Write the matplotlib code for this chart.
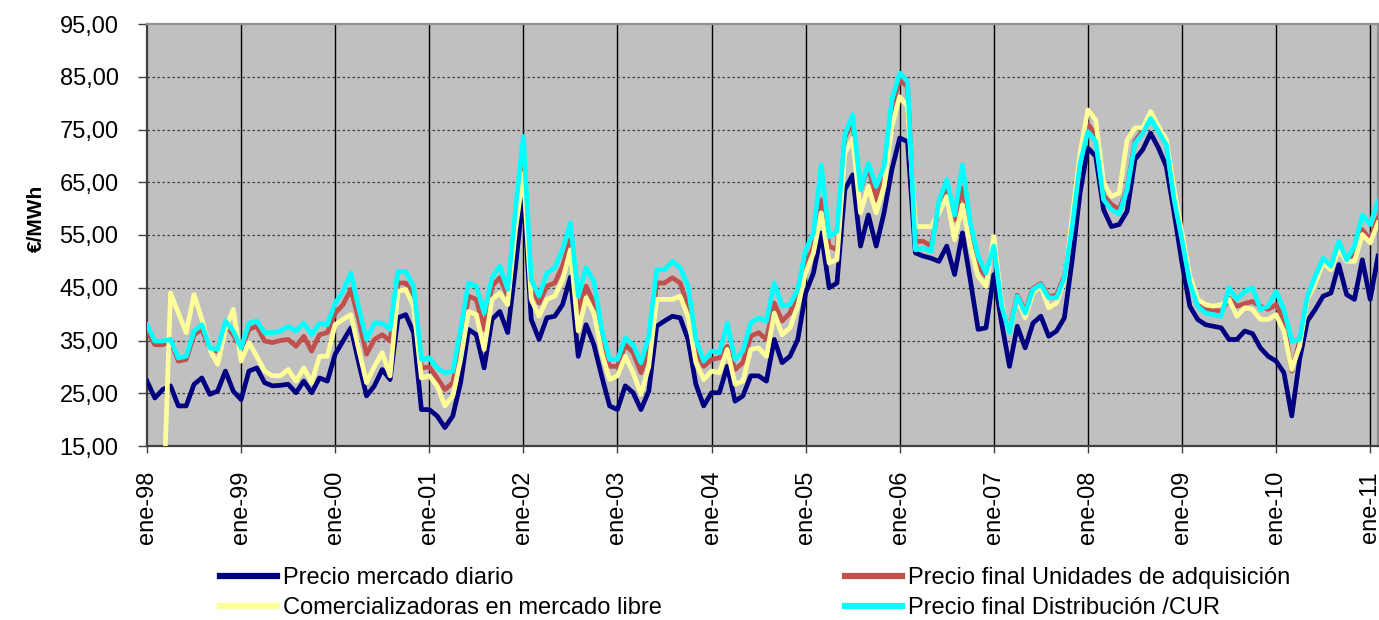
import numpy as np
import matplotlib
matplotlib.use('Agg')
from matplotlib import pyplot as plt
from matplotlib.ticker import FixedLocator, FuncFormatter

plt.rcParams['font.family'] = ['Liberation Sans', 'DejaVu Sans']

# %% data: monthly prices (EUR/MWh), Jan 1998 - Feb 2011
diario = [
    27.3, 24.1, 25.7, 26.4, 22.6, 22.6, 26.7, 27.9, 24.8, 25.4, 29.2, 25.4,
    23.8, 29.2, 29.8, 27.0, 26.4, 26.5, 26.7, 25.1, 27.3, 25.1, 27.9, 27.3,
    32.4, 34.9, 37.4, 30.8, 24.5, 26.4, 29.5, 27.6, 39.3, 39.9, 36.5, 21.9,
    21.9, 20.7, 18.5, 20.7, 27.0, 37.1, 36.1, 29.8, 39.0, 40.5, 36.5, 49.0,
    63.0, 39.0, 35.2, 39.3, 39.6, 41.8, 47.0, 32.0, 38.0, 34.2, 28.2, 22.6,
    21.9, 26.4, 25.1, 21.9, 25.4, 37.7, 38.7, 39.6, 39.3, 35.2, 26.7, 22.6,
    25.1, 25.1, 30.1, 23.5, 24.5, 28.3, 28.3, 27.3, 35.2, 30.8, 32.0, 35.2,
    44.0, 47.8, 55.4, 45.0, 45.9, 63.6, 66.4, 52.9, 58.8, 52.9, 59.2, 67.4,
    73.4, 72.7, 51.6, 51.0, 50.6, 50.0, 52.9, 47.5, 55.4, 46.5, 37.1, 37.4,
    47.5, 38.3, 30.1, 37.7, 33.6, 38.3, 39.6, 35.8, 36.8, 39.3, 50.3, 63.0,
    71.5, 69.9, 59.8, 56.6, 57.0, 59.5, 69.3, 71.2, 74.3, 71.5, 68.0, 59.2,
    49.7, 41.5, 39.0, 38.0, 37.7, 37.4, 35.2, 35.2, 36.8, 36.3, 33.6, 32.0,
    31.1, 28.9, 20.7, 31.4, 38.7, 40.9, 43.4, 44.0, 49.4, 43.7, 42.8, 50.3,
    42.8, 51.0,
]

unidades = [
    36.8, 34.2, 34.2, 34.9, 31.1, 31.4, 36.1, 37.1, 33.3, 33.0, 38.0, 36.1,
    33.3, 37.1, 37.7, 34.9, 34.6, 35.0, 35.2, 33.9, 35.8, 33.0, 36.1, 36.5,
    40.2, 41.8, 44.7, 39.0, 32.4, 35.2, 36.1, 34.9, 45.9, 45.9, 43.4, 29.8,
    30.0, 27.9, 25.7, 27.0, 33.9, 43.4, 42.8, 37.1, 45.3, 46.9, 43.4, 57.9,
    70.5, 45.3, 42.1, 45.3, 45.9, 49.1, 54.1, 40.2, 45.3, 42.1, 35.2, 30.1,
    30.1, 34.2, 32.7, 28.9, 33.3, 45.9, 45.9, 46.9, 45.9, 41.5, 33.3, 30.1,
    31.4, 31.7, 33.9, 29.5, 30.8, 35.8, 36.5, 35.2, 42.1, 38.7, 40.2, 44.0,
    49.1, 52.9, 61.7, 52.9, 52.2, 73.5, 76.5, 63.6, 68.0, 61.7, 67.4, 79.4,
    84.4, 83.1, 53.8, 53.8, 52.9, 60.4, 63.6, 57.9, 63.9, 55.4, 49.1, 47.2,
    53.0, 41.8, 37.0, 43.6, 40.5, 44.9, 45.8, 43.3, 43.6, 47.2, 57.5, 69.5,
    76.0, 74.0, 62.5, 60.8, 59.8, 63.8, 72.8, 74.8, 77.4, 75.0, 72.5, 62.0,
    54.5, 46.3, 42.0, 40.8, 40.8, 40.5, 43.0, 41.5, 42.0, 42.4, 41.5, 40.9,
    41.8, 38.7, 29.2, 34.9, 42.8, 46.9, 50.3, 48.8, 52.2, 50.6, 51.3, 56.0,
    54.1, 58.2,
]

comercializadoras = [
    np.nan, np.nan, 0.0, 44.0, 40.2, 36.5, 43.7, 39.0, 33.3, 30.5, 37.1, 40.9,
    31.1, 34.6, 32.0, 29.2, 28.3, 28.3, 29.5, 27.3, 29.8, 27.0, 32.0, 32.0,
    38.0, 39.0, 39.9, 33.3, 27.0, 30.1, 32.7, 28.3, 44.3, 44.7, 41.5, 27.9,
    28.3, 26.4, 22.6, 24.5, 31.4, 40.5, 39.9, 33.3, 42.8, 44.0, 41.8, 56.0,
    66.7, 42.8, 39.6, 42.8, 43.4, 46.5, 52.2, 36.8, 43.1, 40.2, 32.7, 27.6,
    28.3, 32.0, 28.9, 24.8, 30.1, 42.8, 42.8, 42.8, 43.4, 39.6, 30.8, 27.6,
    29.2, 28.9, 33.3, 26.7, 27.3, 33.3, 33.6, 32.0, 40.2, 36.1, 37.4, 41.5,
    47.8, 51.6, 59.2, 49.7, 50.3, 70.5, 73.3, 59.2, 64.2, 59.2, 64.2, 75.6,
    81.2, 79.4, 56.6, 56.6, 56.6, 59.2, 62.3, 54.1, 60.7, 52.9, 47.2, 45.3,
    54.7, 42.1, 36.5, 43.1, 39.3, 44.0, 45.3, 41.2, 42.1, 46.5, 58.5, 70.5,
    78.7, 76.8, 64.8, 62.3, 63.0, 73.0, 75.3, 75.3, 78.4, 75.6, 73.1, 63.6,
    55.4, 47.2, 42.8, 41.8, 41.5, 41.8, 42.8, 39.6, 41.2, 40.9, 39.0, 39.0,
    39.9, 36.8, 29.5, 33.9, 42.8, 45.9, 49.7, 48.4, 52.2, 50.0, 50.0, 55.1,
    53.5, 57.3,
]

distribucion = [
    38.0, 34.9, 34.9, 35.2, 31.7, 32.0, 36.8, 38.0, 33.6, 33.3, 38.7, 36.8,
    33.6, 38.3, 38.7, 36.5, 36.5, 36.8, 37.7, 36.8, 38.3, 36.1, 38.3, 38.0,
    42.1, 44.3, 47.8, 41.2, 35.2, 38.3, 38.3, 37.1, 48.1, 48.1, 45.3, 31.4,
    31.7, 29.8, 28.9, 29.2, 37.1, 45.9, 45.3, 40.2, 46.9, 49.1, 44.7, 59.8,
    73.7, 46.5, 43.4, 47.8, 48.8, 52.2, 57.3, 43.4, 48.8, 46.2, 37.1, 31.4,
    31.4, 35.5, 34.2, 30.8, 35.8, 48.4, 48.4, 50.0, 48.8, 45.3, 35.2, 31.1,
    33.0, 32.7, 38.3, 31.4, 33.0, 38.3, 39.3, 38.7, 45.9, 41.5, 41.8, 44.7,
    52.2, 55.4, 68.3, 54.7, 55.7, 74.0, 77.8, 63.6, 68.6, 64.2, 68.0, 80.6,
    85.7, 84.1, 52.2, 52.5, 51.9, 61.4, 65.5, 58.8, 68.3, 57.3, 51.0, 47.8,
    52.9, 41.5, 36.5, 43.4, 40.2, 44.7, 45.6, 43.1, 43.1, 46.9, 56.6, 68.6,
    74.6, 72.7, 61.7, 59.8, 59.0, 63.6, 72.4, 74.3, 77.1, 74.6, 72.1, 61.7,
    54.1, 45.9, 41.5, 40.2, 39.9, 39.6, 45.0, 42.8, 44.3, 45.0, 40.9, 41.5,
    44.3, 40.9, 34.9, 35.2, 43.4, 47.2, 50.6, 49.1, 53.8, 50.3, 52.9, 58.8,
    57.0, 61.4,
]

year_labels = ['ene-98', 'ene-99', 'ene-00', 'ene-01', 'ene-02', 'ene-03', 'ene-04',
               'ene-05', 'ene-06', 'ene-07', 'ene-08', 'ene-09', 'ene-10', 'ene-11']
y_ticks = [15, 25, 35, 45, 55, 65, 75, 85, 95]

# %% plot
months = np.arange(len(diario))
year_pos = np.arange(len(year_labels)) * 12

fig = plt.figure(figsize=(13.79, 6.2), dpi=100)
ax = fig.add_axes([147 / 1379, 1 - 446 / 620, 1231 / 1379, 422 / 620])
ax.set_facecolor('#C0C0C0')

lw = 3.4
l1, = ax.plot(months, diario, color='#000080', lw=lw, zorder=3)
l2, = ax.plot(months, unidades, color='#C0504D', lw=lw, zorder=4)
l3, = ax.plot(months, comercializadoras, color='#FFFF99', lw=lw, zorder=5)
l4, = ax.plot(months, distribucion, color='#00FFFF', lw=lw, zorder=6)

ax.set_xlim(0, len(diario) - 1)
ax.set_ylim(15, 95)

ax.xaxis.set_major_locator(FixedLocator(year_pos))
ax.set_xticklabels(year_labels, rotation=90, fontsize=17)
ax.yaxis.set_major_locator(FixedLocator(y_ticks))
ax.yaxis.set_major_formatter(FuncFormatter(lambda v, p: f'{v:.2f}'.replace('.', ',')))
ax.tick_params(axis='y', labelsize=17, length=6.5, width=1, pad=14, color='#404040')
ax.tick_params(axis='x', length=5, width=1, pad=13, color='#404040')

# year lines solid, price lines dashed
for x in year_pos[1:]:
    ax.axvline(x, color='black', lw=1.0, zorder=1)
for y in y_ticks[1:-1]:
    ax.axhline(y, color='#404040', lw=0.9, ls=(0, (2, 2)), zorder=1)

for s in ['left', 'bottom']:
    ax.spines[s].set_color('#404040')
    ax.spines[s].set_linewidth(1.6)
for s in ['top', 'right']:
    ax.spines[s].set_color('#909090')
    ax.spines[s].set_linewidth(1.6)

fig.text(36 / 1379, 1 - 218 / 620, '€/MWh', rotation=90, ha='center', va='center',
         fontsize=15, fontweight='bold')

leg_kw = dict(loc='upper left', frameon=False, fontsize=17, handlelength=2.4,
              handletextpad=0.25, labelspacing=0.35, borderpad=0, borderaxespad=0)
leg1 = fig.legend([l1, l3], ['Precio mercado diario', 'Comercializadoras en mercado libre'],
                  bbox_to_anchor=(220 / 1379, 1 - 567 / 620), **leg_kw)
leg2 = fig.legend([l2, l4], ['Precio final Unidades de adquisición', 'Precio final Distribución /CUR'],
                  bbox_to_anchor=(845 / 1379, 1 - 567 / 620), **leg_kw)
for leg in (leg1, leg2):
    for h in leg.get_lines():
        h.set_linewidth(4.5)

fig.savefig('out.png', dpi=100)
